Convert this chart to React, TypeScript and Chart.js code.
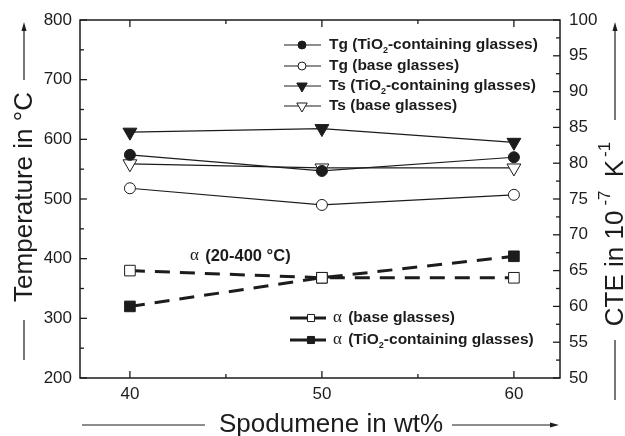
import React, { useEffect, useRef } from 'react';
import { Chart, registerables } from 'chart.js';

Chart.register(...registerables);

// ---------- data ----------
const spodumene = [40, 50, 60];
const tgTiO2 = [574, 547, 570];
const tgBase = [518, 490, 507];
const tsTiO2 = [612, 618, 595];
const tsBase = [559, 552, 552];
const alphaBase = [65, 64, 64];
const alphaTiO2 = [60, 64, 67];

const xMajorTicks = [40, 50, 60];
const xMinorTicks = [45, 55];
const tempMajorTicks = [200, 300, 400, 500, 600, 700, 800];
const tempMinorTicks = [250, 350, 450, 550, 650, 750];
const cteMajorTicks = [50, 55, 60, 65, 70, 75, 80, 85, 90, 95, 100];
const cteMinorTicks = [52.5, 57.5, 62.5, 67.5, 72.5, 77.5, 82.5, 87.5, 92.5, 97.5];

// legend labels: [before subscript, subscript, after subscript]
const topLegendLabels: [string, string, string][] = [
  ['Tg (TiO', '2', '-containing glasses)'],
  ['Tg (base glasses)', '', ''],
  ['Ts (TiO', '2', '-containing glasses)'],
  ['Ts (base glasses)', '', ''],
];
const bottomLegendLabels: [string, string, string][] = [
  ['(base glasses)', '', ''],
  ['(TiO', '2', '-containing glasses)'],
];
const alphaNote = '(20-400 °C)';
const xTitle = 'Spodumene in wt%';
const yTitle = 'Temperature in °C';

const INK = '#1c1c1c';
const SANS = '"Liberation Sans", Arial, Helvetica, sans-serif';
const SERIF = '"Liberation Serif", "DejaVu Serif", serif';

type MarkerStyle = 'circle' | 'triangle' | 'rect';

function drawMarker(
  ctx: CanvasRenderingContext2D,
  style: MarkerStyle,
  x: number,
  y: number,
  r: number,
  filled: boolean,
  rot: number
) {
  ctx.beginPath();
  if (style === 'circle') {
    ctx.arc(x, y, r, 0, Math.PI * 2);
  } else if (style === 'triangle') {
    let a = (rot * Math.PI) / 180;
    for (let k = 0; k < 3; k++) {
      const px = x + Math.sin(a) * r;
      const py = y - Math.cos(a) * r;
      if (k === 0) ctx.moveTo(px, py);
      else ctx.lineTo(px, py);
      a += (Math.PI * 2) / 3;
    }
    ctx.closePath();
  } else {
    const s = r * Math.SQRT1_2;
    ctx.rect(x - s, y - s, 2 * s, 2 * s);
  }
  ctx.fillStyle = filled ? INK : '#ffffff';
  ctx.fill();
  ctx.strokeStyle = INK;
  ctx.lineWidth = 1;
  ctx.stroke();
}

function drawSubText(
  ctx: CanvasRenderingContext2D,
  parts: [string, string, string],
  x: number,
  y: number,
  size: number
) {
  ctx.textBaseline = 'middle';
  ctx.textAlign = 'left';
  ctx.font = `bold ${size}px ${SANS}`;
  ctx.fillText(parts[0], x, y);
  let cx = x + ctx.measureText(parts[0]).width;
  if (parts[1]) {
    ctx.font = `bold ${Math.round(size * 0.6)}px ${SANS}`;
    ctx.fillText(parts[1], cx, y + 6);
    cx += ctx.measureText(parts[1]).width;
    ctx.font = `bold ${size}px ${SANS}`;
    ctx.fillText(parts[2], cx, y);
  }
}

function arrowHeadUp(ctx: CanvasRenderingContext2D, x: number, y: number) {
  ctx.beginPath();
  ctx.moveTo(x, y);
  ctx.lineTo(x - 2.5, y + 9);
  ctx.lineTo(x + 2.5, y + 9);
  ctx.closePath();
  ctx.fill();
}

const decorPlugin = {
  id: 'decor',
  afterDraw(chart: any) {
    const ctx: CanvasRenderingContext2D = chart.ctx;
    const { left, right, top, bottom } = chart.chartArea;
    const xs = chart.scales.x;
    const ys = chart.scales.y;
    const y2 = chart.scales.y2;
    ctx.save();
    ctx.strokeStyle = INK;
    ctx.fillStyle = INK;

    // frame
    ctx.lineWidth = 1.5;
    ctx.strokeRect(left, top, right - left, bottom - top);

    // ticks (inward)
    ctx.lineWidth = 1.3;
    const seg = (x1: number, y1: number, x2: number, y2_: number) => {
      ctx.beginPath();
      ctx.moveTo(x1, y1);
      ctx.lineTo(x2, y2_);
      ctx.stroke();
    };
    xMajorTicks.forEach((v) => {
      const px = xs.getPixelForValue(v);
      seg(px, bottom, px, bottom - 7);
      seg(px, top, px, top + 7);
    });
    xMinorTicks.forEach((v) => {
      const px = xs.getPixelForValue(v);
      seg(px, bottom, px, bottom - 4);
      seg(px, top, px, top + 4);
    });
    tempMajorTicks.forEach((v) => {
      const py = ys.getPixelForValue(v);
      seg(left, py, left + 7, py);
    });
    tempMinorTicks.forEach((v) => {
      const py = ys.getPixelForValue(v);
      seg(left, py, left + 4, py);
    });
    cteMajorTicks.forEach((v) => {
      const py = y2.getPixelForValue(v);
      seg(right, py, right - 7, py);
    });
    cteMinorTicks.forEach((v) => {
      const py = y2.getPixelForValue(v);
      seg(right, py, right - 4, py);
    });

    // ---- axis titles ----
    ctx.lineWidth = 1.2;
    // left
    ctx.save();
    ctx.translate(32, 197);
    ctx.rotate(-Math.PI / 2);
    ctx.font = `26px ${SANS}`;
    ctx.textAlign = 'center';
    ctx.textBaseline = 'alphabetic';
    ctx.fillText(yTitle, 0, 0);
    ctx.restore();
    seg(24, 320, 24, 360);
    seg(24, 80, 24, 28);
    arrowHeadUp(ctx, 24, 22);

    // right: CTE in 10^-7 K^-1
    ctx.save();
    ctx.translate(623, 234);
    ctx.rotate(-Math.PI / 2);
    ctx.textBaseline = 'alphabetic';
    ctx.textAlign = 'left';
    const big = `26px ${SANS}`;
    const sup = `17px ${SANS}`;
    const pieces: [string, string, number][] = [
      ['CTE in 10', big, 0],
      ['-7', sup, -13],
      [' K', big, 0],
      ['-1', sup, -13],
    ];
    let total = 0;
    const gaps = [0, 5, 6, 3];
    pieces.forEach((p, i) => {
      ctx.font = p[1];
      total += ctx.measureText(p[0]).width + gaps[i];
    });
    let cx = -total / 2;
    pieces.forEach((p, i) => {
      cx += gaps[i];
      ctx.font = p[1];
      ctx.fillText(p[0], cx, p[2]);
      cx += ctx.measureText(p[0]).width;
    });
    ctx.restore();
    seg(615, 340, 615, 400);
    seg(615, 120, 615, 28);
    arrowHeadUp(ctx, 615, 22);

    // bottom
    ctx.font = `26px ${SANS}`;
    ctx.textAlign = 'center';
    ctx.textBaseline = 'alphabetic';
    ctx.fillText(xTitle, 331, 432);
    seg(82, 425, 205, 425);
    seg(452, 425, 552, 425);
    ctx.beginPath();
    ctx.moveTo(559, 425);
    ctx.lineTo(550, 422.5);
    ctx.lineTo(550, 427.5);
    ctx.closePath();
    ctx.fill();

    // ---- top legend ----
    const ds = chart.data.datasets;
    const topRows = [45, 66, 86, 106];
    topLegendLabels.forEach((lab, i) => {
      const d = ds[i];
      const y = topRows[i];
      ctx.strokeStyle = INK;
      ctx.lineWidth = 1.2;
      seg(284, y, 321, y);
      drawMarker(
        ctx,
        d.pointStyle,
        302,
        y,
        d.pointStyle === 'triangle' ? 6 : 4,
        d.pointBackgroundColor === INK,
        d.pointRotation || 0
      );
      ctx.fillStyle = INK;
      drawSubText(ctx, lab, 329, y, 15.5);
    });

    // ---- bottom legend ----
    const botRows = [318, 340];
    bottomLegendLabels.forEach((lab, i) => {
      const d = ds[4 + i];
      const y = botRows[i];
      ctx.strokeStyle = INK;
      ctx.lineWidth = 3;
      seg(290, y, 326, y);
      drawMarker(ctx, 'rect', 311, y, 5, d.pointBackgroundColor === INK, 0);
      ctx.fillStyle = INK;
      ctx.font = `17px ${SERIF}`;
      ctx.textAlign = 'left';
      ctx.textBaseline = 'middle';
      ctx.fillText('α', 333, y);
      const aw = ctx.measureText('α ').width;
      drawSubText(ctx, lab, 333 + aw + 2, y, 15.5);
    });

    // ---- annotation ----
    ctx.fillStyle = INK;
    ctx.font = `17px ${SERIF}`;
    ctx.textAlign = 'left';
    ctx.textBaseline = 'middle';
    ctx.fillText('α', 190, 256);
    const aw2 = ctx.measureText('α ').width;
    ctx.font = `bold 16.5px ${SANS}`;
    ctx.fillText(alphaNote, 190 + aw2 + 2, 256);

    ctx.restore();
  },
};

const pts = (ys: number[]) => spodumene.map((x, i) => ({ x, y: ys[i] }));

export default function App() {
  const ref = useRef<HTMLCanvasElement | null>(null);
  useEffect(() => {
    if (!ref.current) return;
    const tickFont = { family: SANS, size: 17 };
    const chart = new Chart(ref.current, {
      type: 'line',
      data: {
        datasets: [
          {
            label: 'Tg (TiO2-containing glasses)',
            data: pts(tgTiO2),
            yAxisID: 'y',
            borderColor: INK,
            borderWidth: 1.2,
            pointStyle: 'circle',
            pointRadius: 5.5,
            pointBackgroundColor: INK,
            pointBorderColor: INK,
            pointBorderWidth: 1,
          },
          {
            label: 'Tg (base glasses)',
            data: pts(tgBase),
            yAxisID: 'y',
            borderColor: INK,
            borderWidth: 1.2,
            pointStyle: 'circle',
            pointRadius: 5.5,
            pointBackgroundColor: '#ffffff',
            pointBorderColor: INK,
            pointBorderWidth: 1,
          },
          {
            label: 'Ts (TiO2-containing glasses)',
            data: pts(tsTiO2),
            yAxisID: 'y',
            borderColor: INK,
            borderWidth: 1.2,
            pointStyle: 'triangle',
            pointRotation: 180,
            pointRadius: 8,
            pointBackgroundColor: INK,
            pointBorderColor: INK,
            pointBorderWidth: 1,
          },
          {
            label: 'Ts (base glasses)',
            data: pts(tsBase),
            yAxisID: 'y',
            borderColor: INK,
            borderWidth: 1.2,
            pointStyle: 'triangle',
            pointRotation: 180,
            pointRadius: 8,
            pointBackgroundColor: '#ffffff',
            pointBorderColor: INK,
            pointBorderWidth: 1,
          },
          {
            label: 'α (base glasses)',
            data: pts(alphaBase),
            yAxisID: 'y2',
            borderColor: INK,
            borderWidth: 3,
            borderDash: [15, 10],
            pointStyle: 'rect',
            pointRadius: 7.5,
            pointBackgroundColor: '#ffffff',
            pointBorderColor: INK,
            pointBorderWidth: 1,
          },
          {
            label: 'α (TiO2-containing glasses)',
            data: pts(alphaTiO2),
            yAxisID: 'y2',
            borderColor: INK,
            borderWidth: 3,
            borderDash: [15, 10],
            pointStyle: 'rect',
            pointRadius: 7.5,
            pointBackgroundColor: INK,
            pointBorderColor: INK,
            pointBorderWidth: 1,
          },
        ],
      },
      options: {
        responsive: false,
        animation: false,
        events: [],
        layout: { padding: { top: 20, left: 0, right: 0, bottom: 0 } },
        plugins: { legend: { display: false }, tooltip: { enabled: false }, title: { display: false } },
        scales: {
          x: {
            type: 'linear',
            min: 37.4,
            max: 62.4,
            afterBuildTicks: (ax: any) => {
              ax.ticks = xMajorTicks.map((v) => ({ value: v }));
            },
            afterFit: (s: any) => {
              s.height = 58;
            },
            grid: { display: false, drawTicks: false },
            border: { display: false },
            ticks: { font: tickFont, color: INK, padding: 6, maxRotation: 0, autoSkip: false },
          },
          y: {
            type: 'linear',
            position: 'left',
            min: 200,
            max: 800,
            afterBuildTicks: (ax: any) => {
              ax.ticks = tempMajorTicks.map((v) => ({ value: v }));
            },
            afterFit: (s: any) => {
              s.width = 80;
            },
            grid: { display: false, drawTicks: false },
            border: { display: false },
            ticks: { font: tickFont, color: INK, padding: 8, autoSkip: false },
          },
          y2: {
            type: 'linear',
            position: 'right',
            min: 50,
            max: 100,
            afterBuildTicks: (ax: any) => {
              ax.ticks = cteMajorTicks.map((v) => ({ value: v }));
            },
            afterFit: (s: any) => {
              s.width = 65;
            },
            grid: { display: false, drawTicks: false },
            border: { display: false },
            ticks: { font: tickFont, color: INK, padding: 9, autoSkip: false },
          },
        },
      },
      plugins: [decorPlugin],
    } as any);
    return () => chart.destroy();
  }, []);

  return (
    <div style={{ position: 'fixed', left: 0, top: 0, width: 625, height: 436, background: '#ffffff' }}>
      <canvas ref={ref} width={625} height={436} style={{ width: 625, height: 436, display: 'block' }} />
    </div>
  );
}
